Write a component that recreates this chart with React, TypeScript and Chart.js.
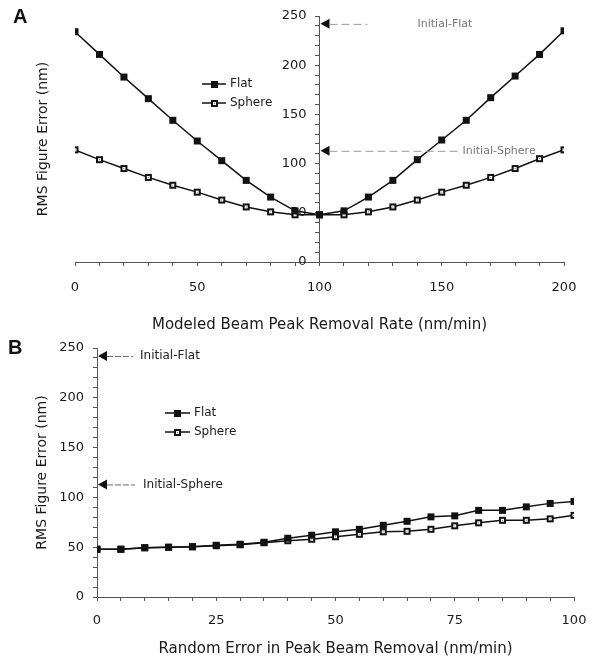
import React, { useEffect, useRef } from 'react';
import { Chart, registerables } from 'chart.js';
Chart.register(...registerables);

// ---------- data ----------
const rateA = [0, 10, 20, 30, 40, 50, 60, 70, 80, 90, 100, 110, 120, 130, 140, 150, 160, 170, 180, 190, 200];
const flatA = [234, 211, 188, 166, 144, 123, 103, 83, 66, 52, 48, 52, 66, 83, 104, 124, 144, 167, 189, 211, 235];
const sphereA = [114, 104, 95, 86, 78, 71, 63, 56, 51, 48, 48, 48, 51, 56, 63, 71, 78, 86, 95, 105, 114];

const errB = [0, 5, 10, 15, 20, 25, 30, 35, 40, 45, 50, 55, 60, 65, 70, 75, 80, 85, 90, 95, 100];
const flatB = [48, 48, 49.5, 50, 50.5, 52, 53, 55, 59, 62, 65.5, 68, 72, 76, 80.5, 81.5, 87, 87, 90.5, 94, 96];
const sphereB = [48, 48, 49.5, 50, 50.5, 51.5, 52.5, 54.5, 56.5, 58, 60.5, 63, 65.5, 66, 68, 71.5, 74.5, 77, 77, 78.5, 82];

const seriesNames = ['Flat', 'Sphere'];
const initialNames = ['Initial-Flat', 'Initial-Sphere'];
const initialValues = [242, 113];

const yTicksMajor = 50;
const titleA = 'Modeled Beam Peak Removal Rate (nm/min)';
const titleB = 'Random Error in Peak Beam Removal (nm/min)';
const yTitle = 'RMS Figure Error (nm)';

const FONT = "'DejaVu Sans', sans-serif";
const INK = '#1a1a1a';
const AXIS = '#555';

function makeMarker(filled: boolean) {
  const s = 9;
  const c = document.createElement('canvas');
  c.width = s;
  c.height = s;
  const g = c.getContext('2d')!;
  if (filled) {
    g.fillStyle = '#111';
    g.fillRect(1, 1, 7, 7);
  } else {
    g.fillStyle = '#fff';
    g.fillRect(1, 1, 7, 7);
    g.strokeStyle = '#111';
    g.lineWidth = 2;
    g.strokeRect(2, 2, 5, 5);
    g.fillStyle = '#777';
    g.fillRect(4, 4, 1, 1);
  }
  return c;
}

const initialsPlugin = {
  id: 'initials',
  afterDatasetsDraw(chart: any, _args: any, opts: any) {
    const { ctx, scales } = chart;
    const ax = scales.x.getPixelForValue(opts.axisAt);
    opts.values.forEach((v: number, i: number) => {
      const py = scales.y.getPixelForValue(v);
      ctx.save();
      ctx.fillStyle = '#111';
      ctx.beginPath();
      ctx.moveTo(ax + 1, py);
      ctx.lineTo(ax + 10, py - 5);
      ctx.lineTo(ax + 10, py + 5);
      ctx.closePath();
      ctx.fill();
      ctx.strokeStyle = opts.lineColor;
      ctx.lineWidth = 1;
      ctx.setLineDash(opts.dash);
      ctx.beginPath();
      ctx.moveTo(ax + 10, py + 0.5);
      ctx.lineTo(ax + opts.lineEnd[i], py + 0.5);
      ctx.stroke();
      ctx.setLineDash([]);
      ctx.fillStyle = opts.textColor;
      ctx.font = `${opts.fontSize}px ${FONT}`;
      ctx.textBaseline = 'middle';
      ctx.textAlign = 'left';
      ctx.fillText(opts.labels[i], ax + opts.textAt[i], py);
      ctx.restore();
    });
  },
};

const legendPlugin = {
  id: 'boxLegend',
  afterDatasetsDraw(chart: any, _args: any, opts: any) {
    const { ctx } = chart;
    chart.data.datasets.forEach((ds: any, i: number) => {
      const y = opts.y + i * opts.dy;
      ctx.save();
      ctx.strokeStyle = ds.borderColor;
      ctx.lineWidth = ds.borderWidth;
      ctx.beginPath();
      ctx.moveTo(opts.x, y);
      ctx.lineTo(opts.x + opts.len, y);
      ctx.stroke();
      const img = ds.pointStyle;
      ctx.drawImage(img, Math.round(opts.x + opts.len / 2 - img.width / 2), Math.round(y - img.height / 2));
      ctx.fillStyle = INK;
      ctx.font = `${opts.fontSize}px ${FONT}`;
      ctx.textBaseline = 'middle';
      ctx.textAlign = 'left';
      ctx.fillText(ds.label, opts.x + opts.len + 4, y);
      ctx.restore();
    });
  },
};

const tickCb = (major: number, suffix = '') => (v: any) => (Number(v) % major === 0 ? String(v) + suffix : '');

function buildA(): any {
  const mFlat = makeMarker(true);
  const mSph = makeMarker(false);
  return {
    type: 'line',
    data: {
      datasets: [
        {
          label: seriesNames[0],
          data: rateA.map((x, i) => ({ x, y: flatA[i] })),
          borderColor: '#111', borderWidth: 1.5, pointStyle: mFlat, yAxisID: 'y',
        },
        {
          label: seriesNames[1],
          data: rateA.map((x, i) => ({ x, y: sphereA[i] })),
          borderColor: '#111', borderWidth: 1.5, pointStyle: mSph, yAxisID: 'y',
        },
      ],
    },
    options: {
      responsive: false,
      animation: false,
      layout: { padding: { left: 0, right: 35, top: 16, bottom: 0 } },
      plugins: {
        legend: { display: false },
        tooltip: { enabled: false },
        initials: {
          axisAt: 100, values: initialValues, labels: initialNames,
          lineEnd: [48, 138], textAt: [98, 143], fontSize: 11,
          textColor: '#777', lineColor: '#999', dash: [8, 4],
        },
        boxLegend: { x: 202, y: 84, dy: 19, len: 24, fontSize: 12 },
      },
      scales: {
        x: {
          type: 'linear', position: 'bottom', min: 0, max: 200,
          afterFit: (s: any) => { s.height = 78; },
          ticks: { stepSize: 10, autoSkip: false, maxRotation: 0, padding: 14, color: INK, font: { family: FONT, size: 13 }, callback: tickCb(50) },
          grid: { drawOnChartArea: false, tickLength: 4, color: AXIS },
          border: { color: AXIS },
          title: { display: true, text: titleA, color: INK, font: { family: FONT, size: 15 }, padding: { top: 0, bottom: 6 } },
        },
        yTitle: {
          type: 'linear', position: 'left', min: 0, max: 250,
          afterFit: (s: any) => { s.width = 75; },
          ticks: { display: false },
          grid: { display: false },
          border: { display: false },
          title: { display: true, text: yTitle, color: INK, font: { family: FONT, size: 14 }, padding: { top: 35, bottom: 0 } },
        },
        y: {
          type: 'linear', position: { x: 100 }, min: 0, max: 250,
          ticks: { stepSize: 10, autoSkip: false, padding: 4, color: INK, font: { family: FONT, size: 13 }, callback: tickCb(yTicksMajor, '\u2003') },
          grid: { drawOnChartArea: false, tickLength: 4, color: AXIS },
          border: { color: AXIS },
        },
      },
      elements: { point: { radius: 4 }, line: { tension: 0 } },
    },
    plugins: [initialsPlugin, legendPlugin],
  };
}

function buildB(): any {
  const mFlat = makeMarker(true);
  const mSph = makeMarker(false);
  return {
    type: 'line',
    data: {
      datasets: [
        {
          label: seriesNames[0],
          data: errB.map((x, i) => ({ x, y: flatB[i] })),
          borderColor: '#111', borderWidth: 1.5, pointStyle: mFlat,
        },
        {
          label: seriesNames[1],
          data: errB.map((x, i) => ({ x, y: sphereB[i] })),
          borderColor: '#111', borderWidth: 1.5, pointStyle: mSph,
        },
      ],
    },
    options: {
      responsive: false,
      animation: false,
      layout: { padding: { left: 0, right: 25, top: 18, bottom: 0 } },
      plugins: {
        legend: { display: false },
        tooltip: { enabled: false },
        initials: {
          axisAt: 0, values: initialValues, labels: initialNames,
          lineEnd: [36, 38], textAt: [43, 46], fontSize: 12,
          textColor: '#222', lineColor: '#666', dash: [6, 2],
        },
        boxLegend: { x: 165, y: 83, dy: 19, len: 25, fontSize: 12 },
      },
      scales: {
        x: {
          type: 'linear', position: 'bottom', min: 0, max: 100,
          afterFit: (s: any) => { s.height = 62; },
          ticks: { stepSize: 5, autoSkip: false, maxRotation: 0, padding: 12, color: INK, font: { family: FONT, size: 13 }, callback: tickCb(25) },
          grid: { drawOnChartArea: false, tickLength: 4, color: AXIS },
          border: { color: AXIS },
          title: { display: true, text: titleB, color: INK, font: { family: FONT, size: 15 }, padding: { top: 0, bottom: 1 } },
        },
        y: {
          type: 'linear', position: 'left', min: 0, max: 250,
          afterFit: (s: any) => { s.width = 97; },
          ticks: { stepSize: 10, autoSkip: false, padding: 9, color: INK, font: { family: FONT, size: 13 }, callback: tickCb(yTicksMajor) },
          grid: { drawOnChartArea: false, tickLength: 4, color: AXIS },
          border: { color: AXIS },
          title: { display: true, text: yTitle, color: INK, font: { family: FONT, size: 14 }, padding: { top: 34, bottom: 0 } },
        },
      },
      elements: { point: { radius: 4 }, line: { tension: 0 } },
    },
    plugins: [initialsPlugin, legendPlugin],
  };
}

function ChartCanvas({ build, width, height, top }: { build: () => any; width: number; height: number; top: number }) {
  const ref = useRef<HTMLCanvasElement | null>(null);
  useEffect(() => {
    if (!ref.current) return;
    const chart = new Chart(ref.current, build());
    return () => chart.destroy();
  }, [build]);
  return (
    <canvas
      ref={ref}
      width={width}
      height={height}
      style={{ position: 'absolute', left: 0, top, width, height, display: 'block' }}
    />
  );
}

const letterStyle: React.CSSProperties = {
  position: 'absolute',
  fontFamily: "'Liberation Sans', Arial, sans-serif",
  fontWeight: 'bold',
  fontSize: 20,
  color: '#111',
  lineHeight: '20px',
};

export default function App() {
  return (
    <div style={{ position: 'absolute', left: 0, top: 0, width: 599, height: 659, background: '#fff', overflow: 'hidden' }}>
      <ChartCanvas build={buildA} width={599} height={340} top={0} />
      <ChartCanvas build={buildB} width={599} height={329} top={330} />
      <div style={{ ...letterStyle, left: 13, top: 6 }}>A</div>
      <div style={{ ...letterStyle, left: 8, top: 337 }}>B</div>
    </div>
  );
}
